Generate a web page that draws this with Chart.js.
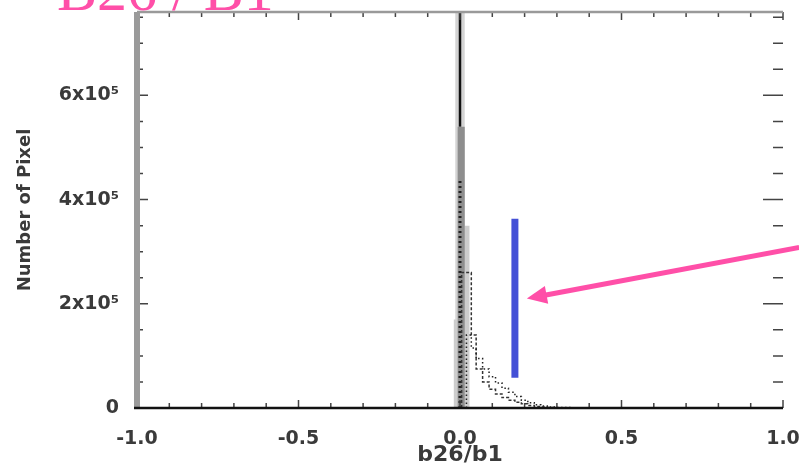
<!DOCTYPE html>
<html>
<head>
<meta charset="utf-8">
<script src="https://cdn.jsdelivr.net/npm/chart.js@4.4.1/dist/chart.umd.min.js"></script>
<style>
  html, body { margin: 0; padding: 0; background: #fff; overflow: hidden; }
  #wrap { position: relative; width: 799px; height: 469px; }
  #title {
    position: absolute; left: 57px; top: -40px; margin: 0;
    font-family: "Liberation Serif", "DejaVu Serif", serif;
    font-size: 60px; line-height: 60px; color: #ff4fa8; white-space: nowrap;
  }
  canvas { filter: blur(0.5px); }
</style>
</head>
<body>
<div id="wrap">
  <canvas id="myChart" width="799" height="469"></canvas>
  <div id="title">B26 / B1</div>
</div>
<script>
// Achsen
const xTicks = [-1.0, -0.5, 0.0, 0.5, 1.0];
const xTickLabels = ['-1.0', '-0.5', '0.0', '0.5', '1.0'];
const yTicks = [0, 2, 4, 6];
const yTickLabels = ['0', '2x10⁵', '4x10⁵', '6x10⁵'];

// Histogramme (Werte in 10^5 Pixel)
const topEdges = [-0.015, 0.015];
const topCounts = [9.5];
const lowEdges = [-0.02, 0.0, 0.03];
const lowCounts = [1.7, 3.5];
const midEdges = [-0.008, 0.015];
const midCounts = [5.4];
const spikeX = [0.0, 0.0];
const spikeY = [5.4, 9.5];
const dotX = [0.0, 0.0];
const dotY = [0.0, 4.4];
const boxEdges = [0.005, 0.035, 0.05, 0.07, 0.09, 0.11, 0.13, 0.15, 0.17, 0.19, 0.21, 0.23, 0.25, 0.27, 0.30, 0.33];
const boxCounts = [2.6, 1.4, 0.75, 0.5, 0.36, 0.27, 0.2, 0.15, 0.11, 0.08, 0.05, 0.03, 0.02, 0.01, 0.005];
const tailEdges = [0.02, 0.035, 0.05, 0.07, 0.09, 0.11, 0.13, 0.15, 0.17, 0.19, 0.21, 0.23, 0.25, 0.27, 0.30, 0.34];
const tailCounts = [1.4, 1.15, 0.95, 0.75, 0.6, 0.48, 0.38, 0.3, 0.22, 0.15, 0.1, 0.06, 0.04, 0.02, 0.01];

// Markierung
const blueX = [0.17, 0.17];
const blueY = [0.58, 3.63];
const arrowFrom = [1.05, 3.08];
const arrowTo = [0.207, 2.1];

function stepData(edges, counts) {
    const pts = [{ x: edges[0], y: 0 }];
    counts.forEach((c, i) => pts.push({ x: edges[i], y: c }));
    pts.push({ x: edges[edges.length - 1], y: counts[counts.length - 1] });
    pts.push({ x: edges[edges.length - 1], y: 0 });
    return pts;
}
const pairs = (xs, ys) => xs.map((x, i) => ({ x: x, y: ys[i] }));

// Ticks nach innen wie im IDL-Plot, Rahmen und Pfeil
const innerTicks = {
    id: 'innerTicks',
    afterDatasetsDraw(chart) {
        const { ctx, chartArea: a, scales: { x, y } } = chart;
        ctx.save();
        ctx.strokeStyle = '#444';
        ctx.lineWidth = 1.5;
        for (let v = -1.0; v <= 1.0001; v += 0.1) {
            const px = x.getPixelForValue(v);
            const major = Math.abs(v * 2 - Math.round(v * 2)) < 1e-6;
            const len = major ? 8 : 5;
            ctx.beginPath();
            ctx.moveTo(px, a.bottom); ctx.lineTo(px, a.bottom - len);
            ctx.moveTo(px, a.top); ctx.lineTo(px, a.top + len);
            ctx.stroke();
        }
        for (let v = 0; v <= 7.6; v += 0.5) {
            const py = y.getPixelForValue(v);
            const major = Math.abs(v / 2 - Math.round(v / 2)) < 1e-6;
            ctx.beginPath();
            ctx.moveTo(a.left, py); ctx.lineTo(a.left + (major ? 11 : 6), py);
            ctx.moveTo(a.right, py); ctx.lineTo(a.right - (major ? 20 : 10), py);
            ctx.stroke();
        }
        // Rahmen
        ctx.strokeStyle = '#9a9a9a';
        ctx.lineWidth = 6;
        ctx.beginPath(); ctx.moveTo(a.left, a.top); ctx.lineTo(a.left, a.bottom); ctx.stroke();
        ctx.lineWidth = 2.5;
        ctx.beginPath(); ctx.moveTo(a.left, a.top); ctx.lineTo(a.right, a.top); ctx.stroke();
        ctx.strokeStyle = '#111';
        ctx.lineWidth = 2.5;
        ctx.beginPath(); ctx.moveTo(a.left - 3, a.bottom); ctx.lineTo(a.right, a.bottom); ctx.stroke();

        // Pfeil
        const x0 = x.getPixelForValue(arrowFrom[0]), y0 = y.getPixelForValue(arrowFrom[1]);
        const x1 = x.getPixelForValue(arrowTo[0]), y1 = y.getPixelForValue(arrowTo[1]);
        const ang = Math.atan2(y1 - y0, x1 - x0);
        ctx.strokeStyle = '#ff4fa8';
        ctx.fillStyle = '#ff4fa8';
        ctx.lineWidth = 5;
        ctx.beginPath();
        ctx.moveTo(x0, y0);
        ctx.lineTo(x1 - 14 * Math.cos(ang), y1 - 14 * Math.sin(ang));
        ctx.stroke();
        ctx.beginPath();
        ctx.moveTo(x1, y1);
        ctx.lineTo(x1 - 20 * Math.cos(ang) + 9 * Math.sin(ang), y1 - 20 * Math.sin(ang) - 9 * Math.cos(ang));
        ctx.lineTo(x1 - 20 * Math.cos(ang) - 9 * Math.sin(ang), y1 - 20 * Math.sin(ang) + 9 * Math.cos(ang));
        ctx.closePath();
        ctx.fill();
        ctx.restore();
    }
};

const labelFont = { family: 'DejaVu Sans', size: 19, weight: 'bold' };

// Reihenfolge: erster Datensatz liegt oben
const ctx = document.getElementById('myChart');
new Chart(ctx, {
    type: 'line',
    data: {
        datasets: [
            { data: pairs(blueX, blueY), borderColor: '#4450d6', borderWidth: 7, borderCapStyle: 'butt', clip: false },
            { data: stepData(tailEdges, tailCounts), stepped: 'before', borderColor: '#222', borderWidth: 1.5, borderDash: [1.5, 2.5] },
            { data: stepData(boxEdges, boxCounts), stepped: 'before', borderColor: '#333', borderWidth: 1.5, borderDash: [3, 2] },
            { data: pairs(dotX, dotY), borderColor: '#222', borderWidth: 3, borderDash: [2, 3] },
            { data: pairs(spikeX, spikeY), borderColor: '#111', borderWidth: 2.5 },
            { data: stepData(midEdges, midCounts), stepped: 'before', borderWidth: 0, backgroundColor: '#8e8e8e', fill: 'origin' },
            { data: stepData(lowEdges, lowCounts), stepped: 'before', borderWidth: 0, backgroundColor: '#cdcdcd', fill: 'origin' },
            { data: stepData(topEdges, topCounts), stepped: 'before', borderWidth: 0, backgroundColor: '#d4d4d4', fill: 'origin' }
        ]
    },
    options: {
        responsive: false,
        animation: false,
        layout: { padding: { top: 12, right: 16, left: 0, bottom: 0 } },
        elements: { point: { radius: 0 }, line: { tension: 0 } },
        plugins: { legend: { display: false }, tooltip: { enabled: false } },
        scales: {
            x: {
                type: 'linear', min: -1, max: 1,
                afterBuildTicks: s => { s.ticks = xTicks.map(v => ({ value: v })); },
                afterFit: s => { s.height = 61; s.paddingLeft = 0; s.paddingRight = 0; },
                grid: { display: false },
                border: { display: false },
                ticks: {
                    padding: 12, color: '#3a3a3a', maxRotation: 0,
                    font: labelFont,
                    callback: (v, i) => xTickLabels[i]
                },
                title: {
                    display: true, text: 'b26/b1', color: '#3a3a3a', padding: { top: 0, bottom: 1 },
                    font: { family: 'DejaVu Sans', size: 22, weight: 'bold' }
                }
            },
            y: {
                type: 'linear', min: 0, max: 7.6,
                afterBuildTicks: s => { s.ticks = yTicks.map(v => ({ value: v })); },
                afterFit: s => { s.width = 137; s.paddingTop = 0; s.paddingBottom = 0; },
                grid: { display: false },
                border: { display: false },
                ticks: {
                    padding: 10, color: '#3a3a3a',
                    font: labelFont,
                    callback: (v, i) => yTickLabels[i]
                },
                title: {
                    display: true, text: 'Number of Pixel', color: '#3a3a3a', padding: { top: 15, bottom: 0 },
                    font: { family: 'DejaVu Sans', size: 18, weight: 'bold' }
                }
            }
        }
    },
    plugins: [innerTicks]
});
</script>
</body>
</html>
